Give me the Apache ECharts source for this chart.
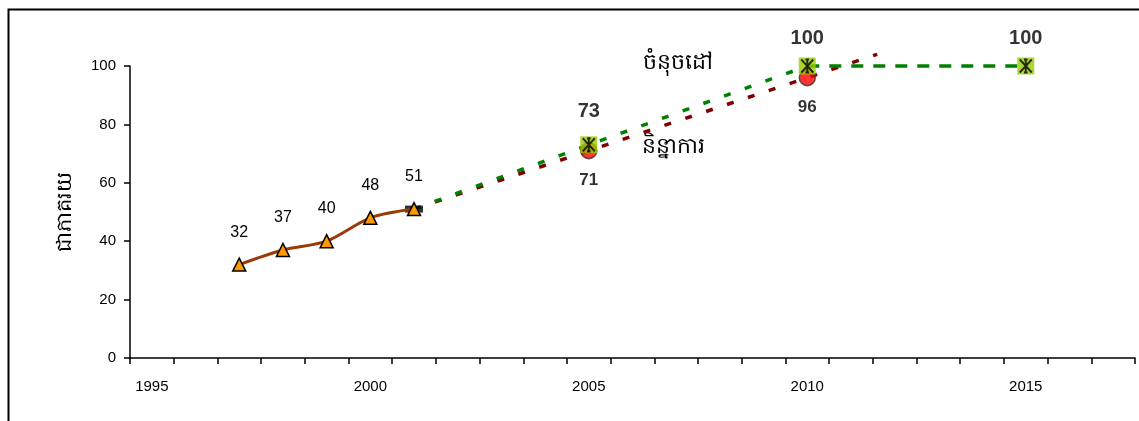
<!DOCTYPE html>
<html>
<head>
<meta charset="utf-8">
<script src="https://cdn.jsdelivr.net/npm/echarts@6/dist/echarts.min.js"></script>
<style>
html,body{margin:0;padding:0;background:#fff;}
#chart{width:1139px;height:421px;}
</style>
</head>
<body>
<div id="chart"></div>
<script>
// Category (tick label) years on the visible axis
var years = [];
for (var y = 1995; y <= 2017; y++) years.push(String(y));

// Observed series (triangles, solid brown line)
var actualYears = [1997, 1998, 1999, 2000, 2001];
var actualValues = [32, 37, 40, 48, 51];

// Target series (green)
var targetYears = [2001, 2005, 2010];
var targetValues = [51, 73, 100];
var targetLaterYears = [2010, 2015];
var targetLaterValues = [100, 100];
var targetMarkYears = [2005, 2010, 2015];
var targetMarkValues = [73, 100, 100];

// Trend series (red)
var trendMarkYears = [2005, 2010];
var trendMarkValues = [71, 96];
var trendLineYears = [2001, 2011.6];
var trendLineValues = [51, 104];

var yTicks = [0, 20, 40, 60, 80, 100];

var yAxisTitle = 'ជាភាគរយ';
var targetText = 'ចំនុចដៅ';
var trendText = 'និន្នាការ';

function pairs(xs, vs) { return xs.map(function (x, i) { return [x, vs[i]]; }); }

var FONT = "'Liberation Sans', Arial, sans-serif";
var chart = echarts.init(document.getElementById('chart'));
chart.setOption({
  animation: false,
  backgroundColor: '#fff',
  grid: { left: 130, right: 4, top: 66, bottom: 63 },
  xAxis: [
    {
      type: 'category',
      data: years,
      boundaryGap: true,
      axisLine: { lineStyle: { color: '#000', width: 1.5 } },
      axisTick: { show: true, interval: 0, length: 6, lineStyle: { color: '#000', width: 1.5 } },
      axisLabel: { interval: 4, margin: 21, fontSize: 15, color: '#000', fontFamily: FONT },
      splitLine: { show: false }
    },
    {
      type: 'value',
      min: 1994.5,
      max: 2017.5,
      show: false,
      splitLine: { show: false }
    }
  ],
  yAxis: {
    type: 'value',
    min: yTicks[0],
    max: yTicks[yTicks.length - 1],
    interval: 20,
    name: yAxisTitle,
    nameLocation: 'middle',
    nameRotate: 90,
    nameGap: 54,
    nameTextStyle: { fontSize: 21, color: '#000' },
    axisLine: { show: true, lineStyle: { color: '#000', width: 1.5 } },
    axisTick: { show: true, length: 6, lineStyle: { color: '#000', width: 1.5 } },
    axisLabel: { fontSize: 15, color: '#000', fontFamily: FONT, margin: 14 },
    splitLine: { show: false }
  },
  series: [
    {
      type: 'line', xAxisIndex: 1,
      data: pairs(trendLineYears, trendLineValues),
      symbol: 'none', clip: false,
      lineStyle: { color: '#800000', width: 3.5, type: [7, 15] },
      z: 2
    },
    {
      type: 'line', xAxisIndex: 1,
      data: pairs(targetYears, targetValues),
      symbol: 'none', clip: false,
      lineStyle: { color: '#008000', width: 3.5, type: [7, 15] },
      z: 2
    },
    {
      type: 'line', xAxisIndex: 1,
      data: pairs(targetLaterYears, targetLaterValues),
      symbol: 'none', clip: false,
      lineStyle: { color: '#008000', width: 3.5, type: [12, 10] },
      z: 2
    },
    {
      type: 'scatter', xAxisIndex: 1,
      data: [[targetYears[0], targetValues[0]]],
      symbol: 'rect', symbolSize: [18, 7],
      itemStyle: { color: '#000' },
      z: 3
    },
    {
      type: 'line', xAxisIndex: 1,
      data: pairs(actualYears, actualValues),
      smooth: 0.3,
      lineStyle: { color: '#9a3a08', width: 3 },
      symbol: 'triangle', symbolSize: 13,
      itemStyle: { color: '#FF9900', borderColor: '#000', borderWidth: 1.5 },
      label: { show: true, position: 'top', distance: 17, fontSize: 16, color: '#000', fontFamily: FONT },
      z: 4
    },
    {
      type: 'scatter', xAxisIndex: 1,
      data: pairs(trendMarkYears, trendMarkValues),
      symbol: 'circle', symbolSize: 16,
      itemStyle: { color: '#FF0000', borderColor: '#333', borderWidth: 1.5 },
      label: { show: true, position: 'bottom', distance: 12, fontSize: 17, fontWeight: 'bold', color: '#000', fontFamily: FONT },
      z: 5
    },
    {
      type: 'scatter', xAxisIndex: 1,
      data: pairs(targetMarkYears, targetMarkValues).map(function (p, i) {
        return { value: p, label: { distance: i === 0 ? 15 : 9 } };
      }),
      symbol: 'rect', symbolSize: 17,
      itemStyle: { color: '#99CC00' },
      label: { show: true, position: 'top', fontSize: 20, fontWeight: 'bold', color: '#000', fontFamily: FONT },
      z: 6
    },
    {
      type: 'scatter', xAxisIndex: 1,
      data: pairs(targetMarkYears, targetMarkValues),
      symbol: 'path://M0,0L10,10M10,0L0,10M5,0L5,10M3.5,0L6.5,0M3.5,10L6.5,10',
      symbolSize: [12, 13],
      itemStyle: { color: 'none', borderColor: '#000', borderWidth: 2 },
      z: 7
    }
  ],
  graphic: [
    {
      type: 'rect', left: 6, top: 7,
      shape: { x: 0, y: 0, width: 1200, height: 500 },
      style: { fill: 'none', stroke: '#000', lineWidth: 2 },
      silent: true, z: 100
    },
    {
      type: 'text', left: 643, top: 52,
      style: { text: targetText, fontSize: 22, fill: '#000' }
    },
    {
      type: 'text', left: 642, top: 136,
      style: { text: trendText, fontSize: 22, fill: '#000' }
    }
  ]
});
</script>
</body>
</html>
